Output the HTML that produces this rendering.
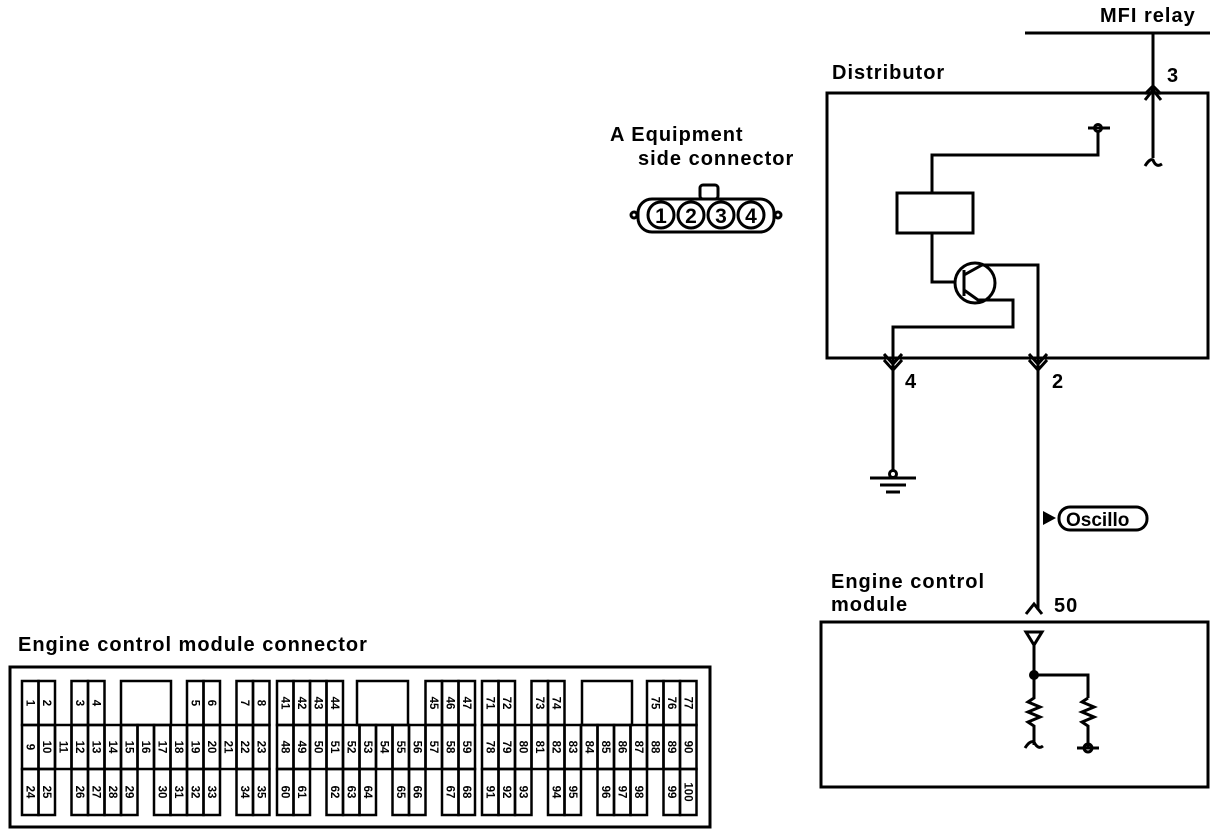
<!DOCTYPE html>
<html><head><meta charset="utf-8"><style>
body{margin:0;background:#fff;width:1232px;height:836px;overflow:hidden}
svg{display:block}
text{font-family:"Liberation Sans",sans-serif;fill:#000}
.l{font-size:20px;font-weight:bold;letter-spacing:1px}
.n{font-size:11.5px;font-weight:bold}
</style></head><body>
<svg width="1232" height="836" viewBox="0 0 1232 836" xmlns="http://www.w3.org/2000/svg">
<g fill="none" stroke="#000" stroke-width="3">
<line x1="1025" y1="33" x2="1210" y2="33"/>
<line x1="1153" y1="33" x2="1153" y2="158"/>
<path d="M1145 100 L1153 90 L1161 100 M1145 94 L1153 86 L1161 94"/>
<path d="M1145 166 Q1150 158 1153 160 Q1156 168 1162 164"/>
<rect x="827" y="93" width="381" height="265"/>
<line x1="1088" y1="128" x2="1110" y2="128"/>
<circle cx="1098" cy="128" r="3.5"/>
<polyline points="1098,131 1098,155 932,155 932,193"/>
<rect x="897" y="193" width="76" height="40"/>
<polyline points="932,233 932,282 955,282"/>
<circle cx="975" cy="283" r="20"/>
<polyline points="964,270 964,296"/>
<polyline points="964,275 982,265 1038,265 1038,610"/>
<polyline points="964,290 978,300 1013,300 1013,327 893,327 893,470"/>
<path d="M884 354 L893 364 L902 354 M884 360 L893 370 L902 360"/>
<path d="M1029 354 L1038 364 L1047 354 M1029 360 L1038 370 L1047 360"/>
<circle cx="893" cy="474" r="3.5"/>
<line x1="870" y1="478" x2="916" y2="478"/>
<line x1="880" y1="485" x2="906" y2="485"/>
<line x1="886" y1="492" x2="900" y2="492"/>
<rect x="1059" y="507" width="88" height="23" rx="11"/>
<rect x="821" y="622" width="387" height="165"/>
<path d="M1026 614 L1034 604 L1042 614"/>
<path d="M1026 632 L1042 632 L1034 645 Z"/>
<polyline points="1034,645 1034,675 1088,675 1088,698"/>
<polyline points="1034,675 1034,698 1028,702 1040,707 1028,712 1040,717 1028,722 1034,726 1034,745"/>
<path d="M1025 748 Q1030 740 1034 742 Q1038 750 1043 746"/>
<polyline points="1088,698 1082,702 1094,707 1082,712 1094,717 1082,722 1088,726 1088,748"/>
<line x1="1077" y1="748" x2="1099" y2="748"/>
<circle cx="1088" cy="748" r="4"/>
<rect x="700" y="185" width="18" height="14" rx="3"/>
<rect x="638" y="199" width="136" height="33" rx="14"/>
<circle cx="661" cy="215" r="13"/><circle cx="691" cy="215" r="13"/><circle cx="721" cy="215" r="13"/><circle cx="751" cy="215" r="13"/>
<circle cx="634" cy="215" r="3"/><circle cx="778" cy="215" r="3"/>
</g>
<circle cx="1034" cy="675" r="5" fill="#000"/>
<path d="M1043 511 L1056 518 L1043 525 Z" fill="#000"/>
<text x="1066" y="526" class="l" style="font-size:19px;letter-spacing:0">Oscillo</text>
<text x="1100" y="22" class="l">MFI relay</text>
<text x="832" y="79" class="l">Distributor</text>
<text x="1167" y="82" class="l">3</text>
<text x="905" y="388" class="l">4</text>
<text x="1052" y="388" class="l">2</text>
<text x="831" y="588" class="l">Engine control</text>
<text x="831" y="611" class="l">module</text>
<text x="1054" y="612" class="l">50</text>
<text x="610" y="141" class="l">A  Equipment</text>
<text x="638" y="165" class="l">side  connector</text>
<g font-size="21" font-weight="bold" text-anchor="middle" font-family="Liberation Sans,sans-serif"><text x="661" y="223">1</text><text x="691" y="223">2</text><text x="721" y="223">3</text><text x="751" y="223">4</text></g>
<text x="18" y="651" class="l">Engine control module connector</text>

<g fill="none" stroke="#000" stroke-width="2.5">
<rect x="10" y="667" width="700" height="160" stroke-width="3"/>
<rect x="121" y="681" width="50" height="44"/>
<rect x="357" y="681" width="51" height="44"/>
<rect x="582" y="681" width="50" height="44"/>
</g>
<g id="cells" fill="none" stroke="#000" stroke-width="2.5"></g>
<g id="nums" class="n" text-anchor="middle"></g>
<script>
(function(){
var W=16.5,gx=[22,277,482],rows=[681,725,769],rh=[44,44,46];
var cells=[
[0,0,0,1],[0,0,1,2],[0,0,3,3],[0,0,4,4],[0,0,10,5],[0,0,11,6],[0,0,13,7],[0,0,14,8],
[0,1,0,41],[0,1,1,42],[0,1,2,43],[0,1,3,44],[0,1,9,45],[0,1,10,46],[0,1,11,47],
[0,2,0,71],[0,2,1,72],[0,2,3,73],[0,2,4,74],[0,2,10,75],[0,2,11,76],[0,2,12,77],
[2,0,0,24],[2,0,1,25],[2,0,3,26],[2,0,4,27],[2,0,5,28],[2,0,6,29],[2,0,8,30],[2,0,9,31],[2,0,10,32],[2,0,11,33],[2,0,13,34],[2,0,14,35],
[2,1,0,60],[2,1,1,61],[2,1,3,62],[2,1,4,63],[2,1,5,64],[2,1,7,65],[2,1,8,66],[2,1,10,67],[2,1,11,68],
[2,2,0,91],[2,2,1,92],[2,2,2,93],[2,2,4,94],[2,2,5,95],[2,2,7,96],[2,2,8,97],[2,2,9,98],[2,2,11,99],[2,2,12,100]];
var i;for(i=0;i<15;i++)cells.push([1,0,i,9+i]);
for(i=0;i<12;i++)cells.push([1,1,i,48+i]);
for(i=0;i<13;i++)cells.push([1,2,i,78+i]);
var ns="http://www.w3.org/2000/svg",cg=document.getElementById('cells'),tg=document.getElementById('nums');
cells.forEach(function(c){
 var x=gx[c[1]]+c[2]*W,y=rows[c[0]],h=rh[c[0]];
 var r=document.createElementNS(ns,'rect');
 r.setAttribute('x',x);r.setAttribute('y',y);r.setAttribute('width',W);r.setAttribute('height',h);cg.appendChild(r);
 var t=document.createElementNS(ns,'text');
 t.setAttribute('transform','translate('+(x+W/2-4)+','+(y+h/2)+') rotate(90)');
 t.textContent=c[3];tg.appendChild(t);
});
})();
</script>
</svg>
</body></html>
